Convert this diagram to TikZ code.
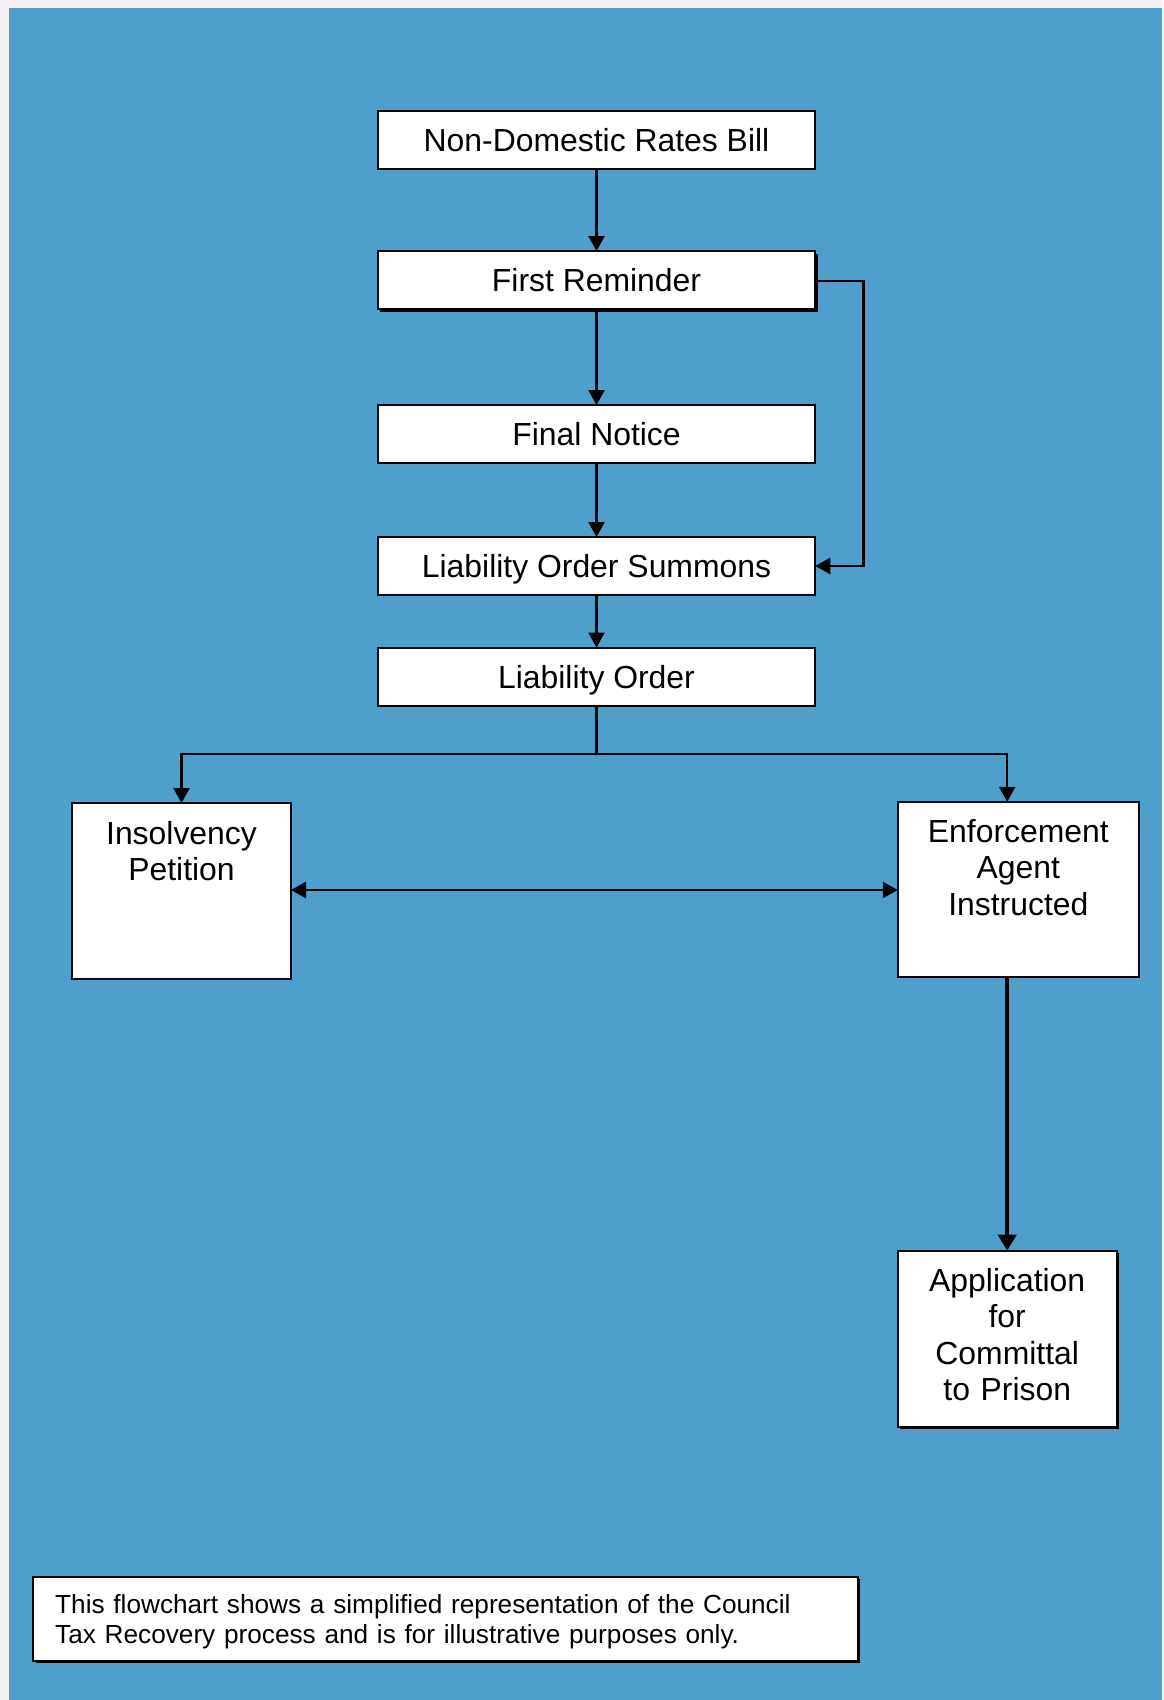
\documentclass[tikz,border=0pt]{standalone}
\usepackage{fontspec}
\setmainfont{Liberation Sans}
\usetikzlibrary{arrows.meta,calc,shadows}
\definecolor{bgblue}{RGB}{78,159,204}
\definecolor{bggray}{RGB}{242,242,242}
\tikzset{
  box/.style={draw=black, fill=white, line width=2pt, inner sep=0pt, outer sep=0pt},
  onebox/.style={box, minimum width=437.5pt, minimum height=58pt,
    font=\fontsize{31.9pt}{36.5pt}\selectfont, text height=23pt, text depth=0pt},
  lbl/.style={inner sep=0pt, align=center, font=\fontsize{31.9pt}{36.5pt}\selectfont},
  shad/.style={drop shadow={shadow xshift=2.5pt, shadow yshift=-2.5pt, fill=black, opacity=1}},
  arr/.style={line width=2.5pt, -{Triangle[length=15pt,width=16pt]}},
  ln/.style={line width=2.5pt},
}
\begin{document}
\begin{tikzpicture}[x=1pt,y=-1pt]
\useasboundingbox (0,0) rectangle (1163,1700);
\fill[bggray] (0,0) rectangle (1163,1700);
\fill[bgblue] (9.3,8.3) rectangle (1162,1700);

\node[onebox] (ndr) at (596.5,140) {Non-Domestic Rates Bill};
\node[onebox, shad] (fr) at (596.5,280) {First Reminder};
\node[onebox] (fn) at (596.5,434) {Final Notice};
\node[onebox] (los) at (596.5,566) {Liability Order Summons};
\node[onebox] (lo) at (596.5,676.5) {Liability Order};

\node[box, minimum width=219pt, minimum height=176pt] (ip) at (181.5,891) {};
\node[lbl, text width=215pt, anchor=base] (ipt) at ($(ip.north)+(0,41)$) {Insolvency\\Petition};

\node[box, minimum width=241pt, minimum height=175pt] (ea) at (1018.3,889.3) {};
\node[lbl, text width=235pt, anchor=base] (eat) at ($(ea.north)+(0,40.3)$) {Enforcement\\Agent\\Instructed};

\node[box, shad, minimum width=219pt, minimum height=176pt] (app) at (1007.2,1338.7) {};
\node[lbl, text width=215pt, anchor=base] (appt) at ($(app.north)+(0,40.3)$) {Application\\for\\Committal\\to Prison};

\node[box, shad, minimum width=824.4pt, minimum height=84pt] (note) at (445.5,1618.6) {};
\node[inner sep=0pt, align=left, text width=795pt, anchor=base west,
  font=\fontsize{26.2pt}{29.5pt}\selectfont] (notet) at (55,1613.5)
  {This flowchart shows a simplified representation of the Council\\Tax Recovery process and is for illustrative purposes only.};

% connectors
\draw[arr] (ndr.south) -- (fr.north);
\draw[arr] (fr.south) -- (fn.north);
\draw[arr] (fn.south) -- (los.north);
\coordinate (rt) at (863.3,281);
\draw[arr] (fr.east |- rt) -- (rt) |- (los.east);
\draw[arr] (los.south) -- (lo.north);
\coordinate (j) at (596.5,754);
\draw[ln] (lo.south) -- (j);
\draw[arr] (j) -| (ip.north);
\draw[arr] (j) -| (app.north |- ea.north);
\coordinate (mid) at (596.5,890);
\draw[line width=2.5pt, {Triangle[length=15pt,width=16pt]}-{Triangle[length=15pt,width=16pt]}] (ip.east |- mid) -- (ea.west |- mid);
\draw[line width=4pt, -{Triangle[length=16pt,width=18pt]}] (app.north |- ea.south) -- (app.north);
\end{tikzpicture}
\end{document}
